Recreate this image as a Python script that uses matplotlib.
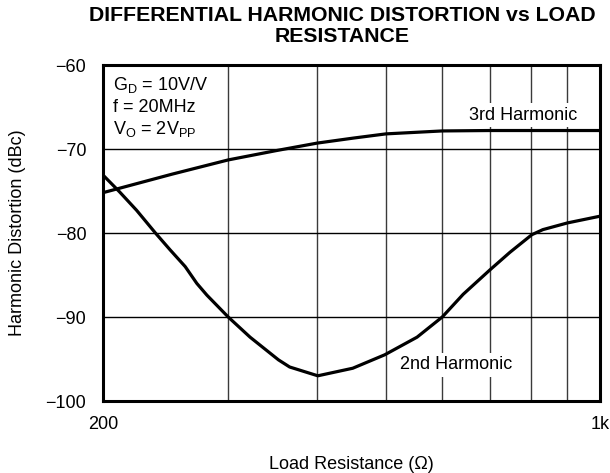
import matplotlib
matplotlib.use("Agg")
import matplotlib.pyplot as plt
from matplotlib.ticker import FixedLocator, NullLocator

plt.rcParams["font.family"] = ["Liberation Sans", "DejaVu Sans"]

# 3rd harmonic vs load resistance
r_3rd = [200, 250, 300, 350, 400, 450, 500, 600, 700, 800, 900, 1000]
hd_3rd = [-75.2, -73.0, -71.3, -70.2, -69.3, -68.7, -68.2, -67.85, -67.8, -67.8, -67.8, -67.8]

# 2nd harmonic vs load resistance
r_2nd = [200, 211, 223, 237, 248.5, 261, 271, 280, 300, 322, 353, 366, 401, 449, 498,
         553, 600, 642, 700, 747, 802, 831, 900, 1000]
hd_2nd = [-73.1, -75.1, -77.3, -80.0, -82.0, -84.0, -86.0, -87.4, -90.0, -92.4, -95.1, -95.95,
          -97.0, -96.1, -94.5, -92.4, -90.0, -87.3, -84.4, -82.3, -80.2, -79.6, -78.8, -78.0]

y_ticks = [-100, -90, -80, -70, -60]
x_ticks = [200, 1000]
x_ticklabels = ["200", "1k"]
x_grid = [300, 400, 500, 600, 700, 800, 900]

fig = plt.figure(figsize=(6.1, 4.73), dpi=100)
ax = fig.add_axes([103 / 610, 1 - 401 / 473, 497 / 610, 336 / 473])

ax.set_xscale("log")
ax.set_xlim(200, 1000)
ax.set_ylim(-100, -60)

ax.xaxis.set_major_locator(FixedLocator(x_ticks))
ax.xaxis.set_minor_locator(NullLocator())
ax.set_xticks(x_ticks)
ax.set_xticklabels(x_ticklabels)
ax.set_yticks(y_ticks)
ax.set_yticklabels(["\u2212" + str(-v) for v in y_ticks])
ax.tick_params(axis="both", length=0, labelsize=13)
ax.tick_params(axis="y", pad=12)
ax.tick_params(axis="x", pad=11)

# grid
for xv in x_grid:
    ax.axvline(xv, color="#3a3a3a", lw=1.0, zorder=1)
for yv in [-90, -80, -70]:
    ax.axhline(yv, color="black", lw=1.0, zorder=1)

for sp in ax.spines.values():
    sp.set_linewidth(2.2)

ax.plot(r_3rd, hd_3rd, color="black", lw=2.3, zorder=4, solid_joinstyle="round")
ax.plot(r_2nd, hd_2nd, color="black", lw=2.3, zorder=4, solid_joinstyle="round")

box = dict(facecolor="white", edgecolor="none", pad=2.5)
ax.text(780, -66.0, "3rd Harmonic", fontsize=13, ha="center", va="center", bbox=box, zorder=3)
ax.text(628, -95.7, "2nd Harmonic", fontsize=13, ha="center", va="center", bbox=box, zorder=3)

ax.text(0.02, 0.94, "G$_\\mathregular{D}$ = 10V/V", transform=ax.transAxes, fontsize=13, va="center")
ax.text(0.02, 0.875, "f = 20MHz", transform=ax.transAxes, fontsize=13, va="center")
ax.text(0.02, 0.81, "V$_\\mathregular{O}$ = 2V$_\\mathregular{PP}$", transform=ax.transAxes,
        fontsize=13, va="center")

ax.set_xlabel("Load Resistance (\u03a9)", fontsize=13, labelpad=16)
ax.set_ylabel("Harmonic Distortion (dBc)", fontsize=13, labelpad=14)

fig.text(342 / 610, 1 - 26 / 473, "DIFFERENTIAL HARMONIC DISTORTION vs LOAD\nRESISTANCE",
         ha="center", va="center", fontsize=15.3, fontweight="bold", linespacing=1.08)

fig.savefig("out.png", dpi=100)
